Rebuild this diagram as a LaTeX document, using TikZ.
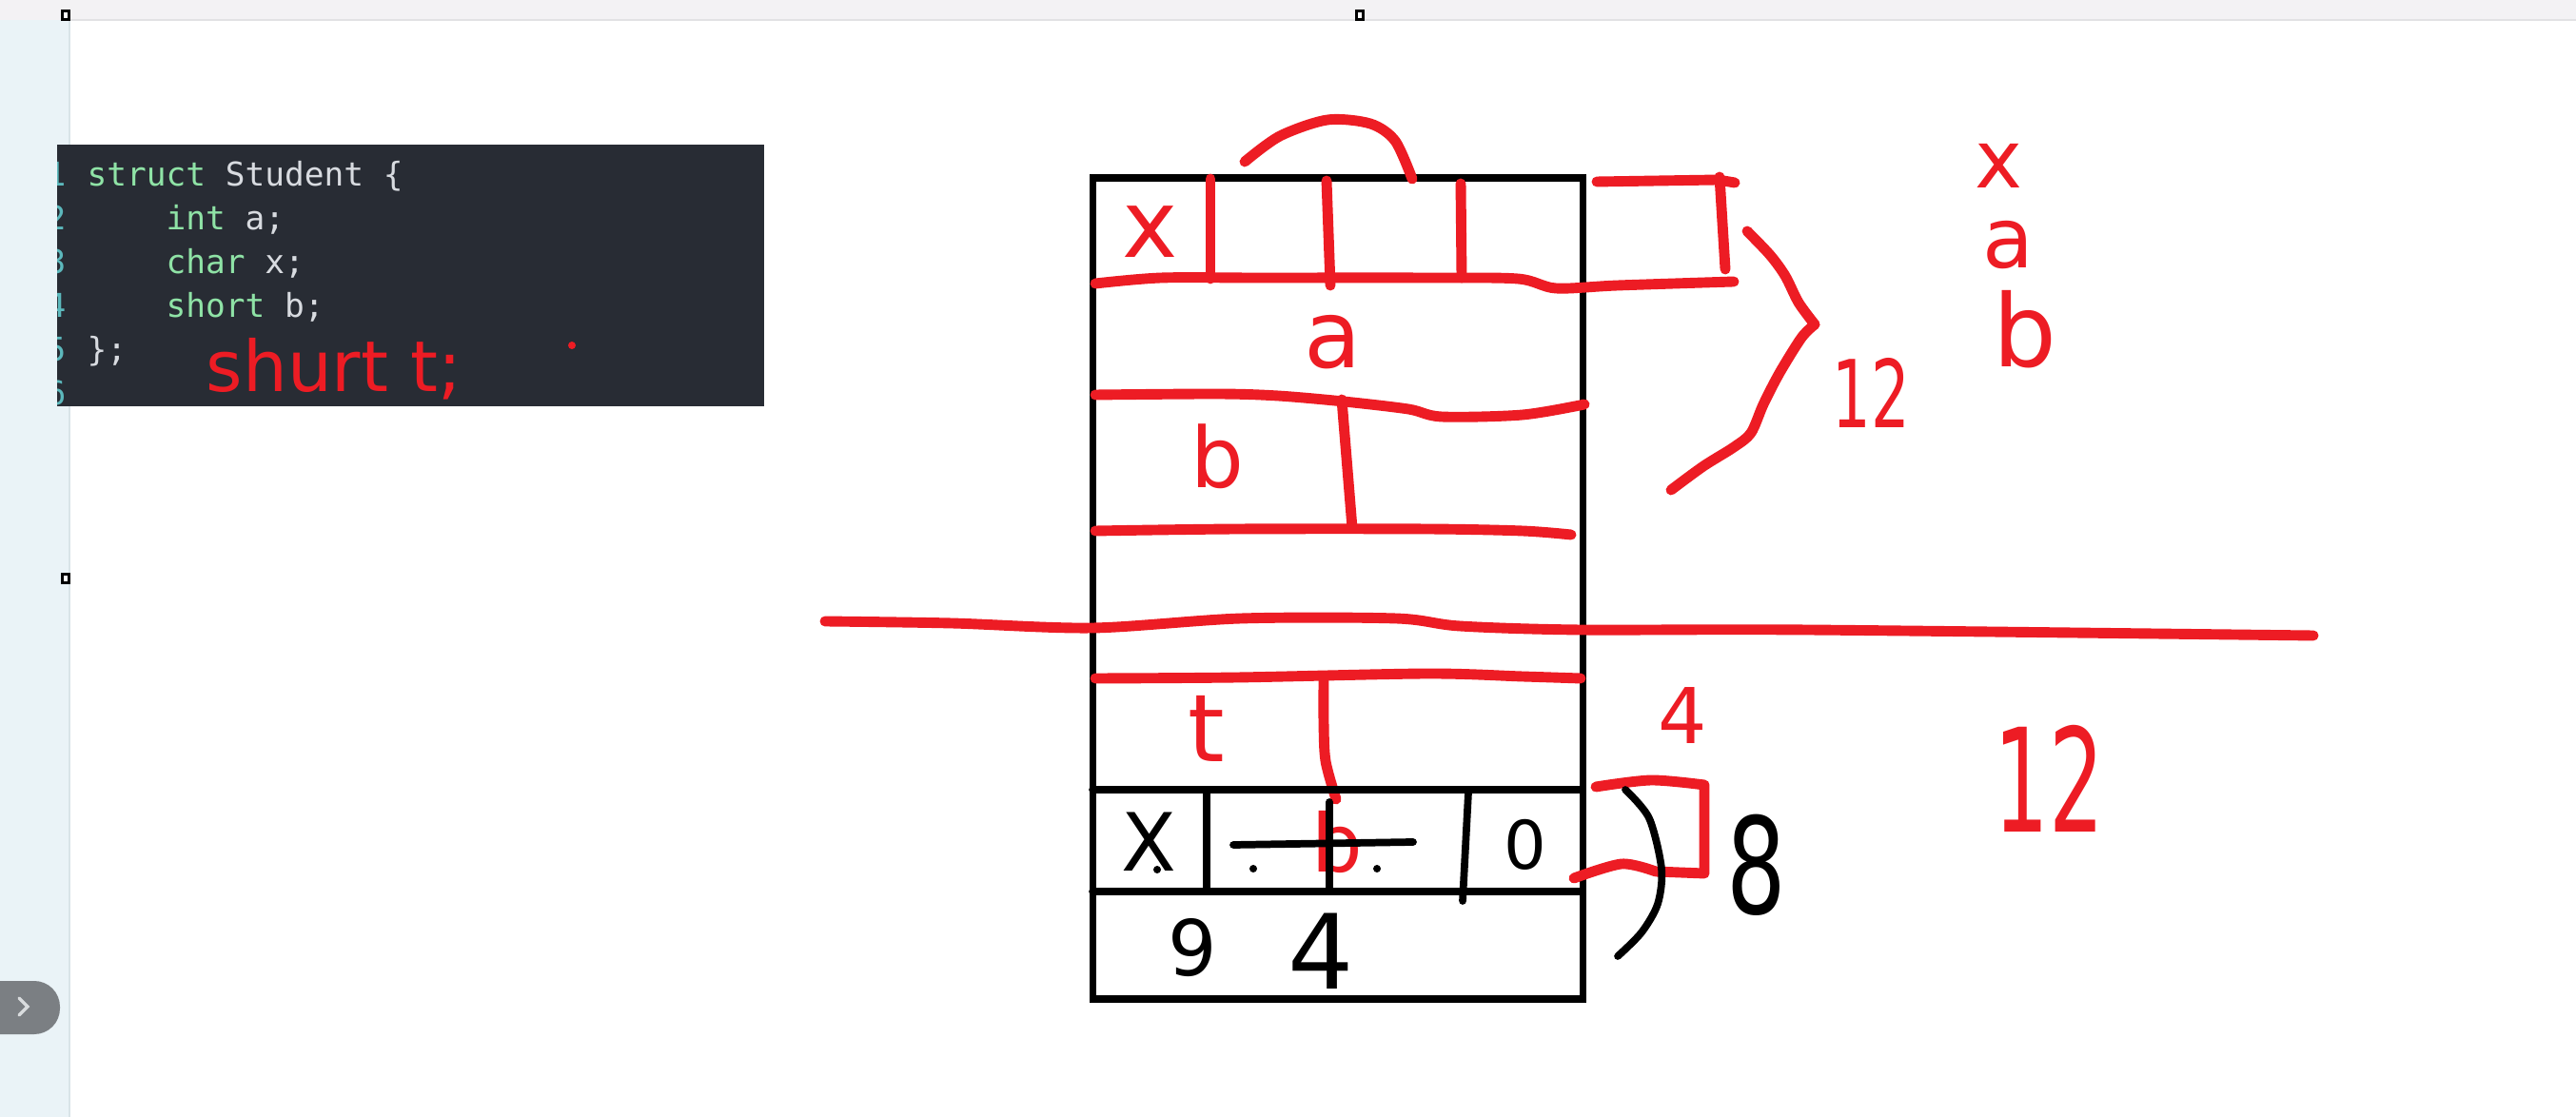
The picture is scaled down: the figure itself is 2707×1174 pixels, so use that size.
\documentclass[tikz,border=0pt]{standalone}
\usepackage{fontspec}
\usepackage{graphicx}
\newfontfamily\handfont{DejaVu Sans}
\newfontfamily\codefont{DejaVu Sans Mono}
\definecolor{penred}{HTML}{ED1C24}
\definecolor{codebg}{HTML}{282C34}
\definecolor{codegreen}{HTML}{8FE3A6}
\definecolor{codetext}{HTML}{D8DBE0}
\definecolor{codenum}{HTML}{5CB8BC}
\definecolor{sidebg}{HTML}{EAF3F7}
\definecolor{sideline}{HTML}{D9E4E8}
\definecolor{barbg}{HTML}{F3F2F4}
\definecolor{barline}{HTML}{E2E2E4}
\definecolor{tabgray}{HTML}{7B7F83}
\definecolor{chevgray}{HTML}{D9DCDE}

\begin{document}
\begin{tikzpicture}[x=0.01cm,y=-0.01cm,
  redpen/.style={draw=penred,line width=3.1pt,line cap=round,line join=round},
  blackpen/.style={draw=black,line width=2.2pt,line cap=round,line join=round},
  redhand/.style={text=penred,inner sep=0pt,font=\handfont\fontsize{#1}{#1}\selectfont},
  blackhand/.style={text=black,inner sep=0pt,font=\handfont\fontsize{#1}{#1}\selectfont},
  codeline/.style={anchor=base west,inner sep=0pt,text=codetext,font=\codefont\fontsize{9.8}{12}\selectfont},
  codenumber/.style={anchor=base east,inner sep=0pt,text=codenum,font=\codefont\fontsize{9.8}{12}\selectfont},
  handle/.style={draw=black,fill=white,line width=0.6pt,inner sep=0pt,minimum width=0.07cm,minimum height=0.09cm}]

	\useasboundingbox (0,0) rectangle (2707,1174);
	\fill[white] (0,0) rectangle (2707,1174);
	\fill[sidebg] (0,0) rectangle (73,1174);
	\draw[sideline,line width=0.6pt] (73,21) -- (73,1174);
	\fill[barbg] (0,0) rectangle (2707,21);
	\draw[barline,line width=0.6pt] (73,21) -- (2707,21);
	
	\node[handle] (h1) at (69,16) {};
	\node[handle] (h2) at (1429,16) {};
	\node[handle] (h3) at (69,608) {};
	
	\fill[tabgray,rounded corners=0.27cm] (-40,1031) rectangle (63,1087);
	\draw[chevgray,line width=1pt,line cap=round] (20,1049) -- (29,1058) -- (20,1067);
	
	\fill[codebg] (60,152) rectangle (803,427);
	\begin{scope}
	\clip (60,152) rectangle (803,427);
	\node[codenumber] (n1) at (70,196) {1};
	\node[codenumber] (n2) at (70,242) {2};
	\node[codenumber] (n3) at (70,288) {3};
	\node[codenumber] (n4) at (70,334) {4};
	\node[codenumber] (n5) at (70,380) {5};
	\node[codenumber] (n6) at (70,426) {6};
	\end{scope}
	\node[codeline] (l1) at (91,196) {\textcolor{codegreen}{struct} Student \{};
	\node[codeline] (l2) at (174,242) {\textcolor{codegreen}{int} a;};
	\node[codeline] (l3) at (174,288) {\textcolor{codegreen}{char} x;};
	\node[codeline] (l4) at (174,334) {\textcolor{codegreen}{short} b;};
	\node[codeline] (l5) at (91,380) {\};};
	\node[redhand=21,anchor=base west] (note) at (216,412) {shurt t;};
	\fill[penred] (601,363) circle[radius=4];
	
	\draw[draw=black,line width=2pt] (1148,187) rectangle (1663,1050);
	
	\draw[redpen] plot[smooth] coordinates {(1308,170) (1345,143) (1395,126) (1440,130) (1466,148) (1484,188)};
	\draw[redpen] (1272,188) -- (1272,293);
	\draw[redpen] (1394,190) -- (1398,300);
	\draw[redpen] (1535,193) -- (1536,292);
	\draw[redpen] plot[smooth] coordinates {(1151,298) (1220,292) (1320,292) (1500,292) (1595,293) (1635,303) (1700,300) (1822,296)};
	\draw[redpen] (1678,191) -- (1805,189) -- (1823,192);
	\draw[redpen] (1807,186) -- (1813,283);
	\draw[redpen] plot[smooth] coordinates {(1836,243) (1860,268) (1876,290) (1890,318) (1907,341)};
	\draw[redpen] plot[smooth] coordinates {(1907,341) (1893,355) (1870,392) (1853,425) (1840,455) (1822,470) (1790,490) (1756,515)};
	\draw[redpen] plot[smooth] coordinates {(1151,415) (1280,414) (1343,416) (1412,422) (1480,430) (1515,438) (1600,436) (1665,425)};
	\draw[redpen] (1410,420) -- (1421,555);
	\draw[redpen] plot[smooth] coordinates {(1151,558) (1300,556) (1500,556) (1600,558) (1651,562)};
	\draw[redpen] plot[smooth] coordinates {(867,653) (1000,655) (1148,660) (1304,650) (1467,650) (1534,658) (1661,662) (1900,662) (2431,668)};
	\draw[redpen] plot[smooth] coordinates {(1151,713) (1300,712) (1500,708) (1600,711) (1661,713)};
	\draw[redpen] plot[smooth] coordinates {(1391,713) (1391,760) (1393,800) (1404,840)};
	\draw[redpen] plot[smooth] coordinates {(1677,827) (1735,820) (1791,825)} -- (1791,918) -- (1740,916) plot[smooth] coordinates {(1740,916) (1704,908) (1654,923)};
	
	\node[redhand=28] (rx) at (1209,244) {x};
	\node[redhand=28] (ra) at (1401,360) {a};
	\node[redhand=25] (rb) at (1279,480) {b};
	\node[redhand=28] (rt) at (1268,766) {t};
	\node[redhand=24] (rb2) at (1405,885) {b};
	\node[redhand=23] (rfour) at (1768,752) {4};
	\node[redhand=28] (rtwelve) at (1966,413) {\scalebox{0.65}[1]{12}};
	\node[redhand=43] (rtwelve2) at (2153,818) {\scalebox{0.6}[1]{12}};
	\node[redhand=24] (sx) at (2100,174) {x};
	\node[redhand=25] (sa) at (2110,258) {a};
	\node[redhand=30] (sb) at (2128,346) {b};
	
	\draw[blackpen] (1148,830) -- (1663,830);
	\draw[blackpen] (1268,830) -- (1268,935);
	\draw[blackpen] (1397,843) -- (1397,935);
	\draw[blackpen] (1543,833) -- (1537,947);
	\draw[blackpen] (1148,937) -- (1663,937);
	\draw[blackpen] (1296,888) -- (1485,885);
	\fill (1216,914) circle[radius=4];
	\fill (1317,913) circle[radius=4];
	\fill (1447,913) circle[radius=4];
	\draw[blackpen] plot[smooth] coordinates {(1708,830) (1733,860) (1746,913) (1742,950) (1725,980) (1700,1005)};
	
	\node[blackhand=24] (bx) at (1207,885) {X};
	\node[blackhand=20] (bzero) at (1603,888) {0};
	\node[blackhand=23] (bnine) at (1253,996) {9};
	\node[blackhand=31] (bfour) at (1388,1000) {4};
	\node[blackhand=40] (beight) at (1846,909) {\scalebox{0.7}[1]{8}};
	
\end{tikzpicture}
\end{document}
